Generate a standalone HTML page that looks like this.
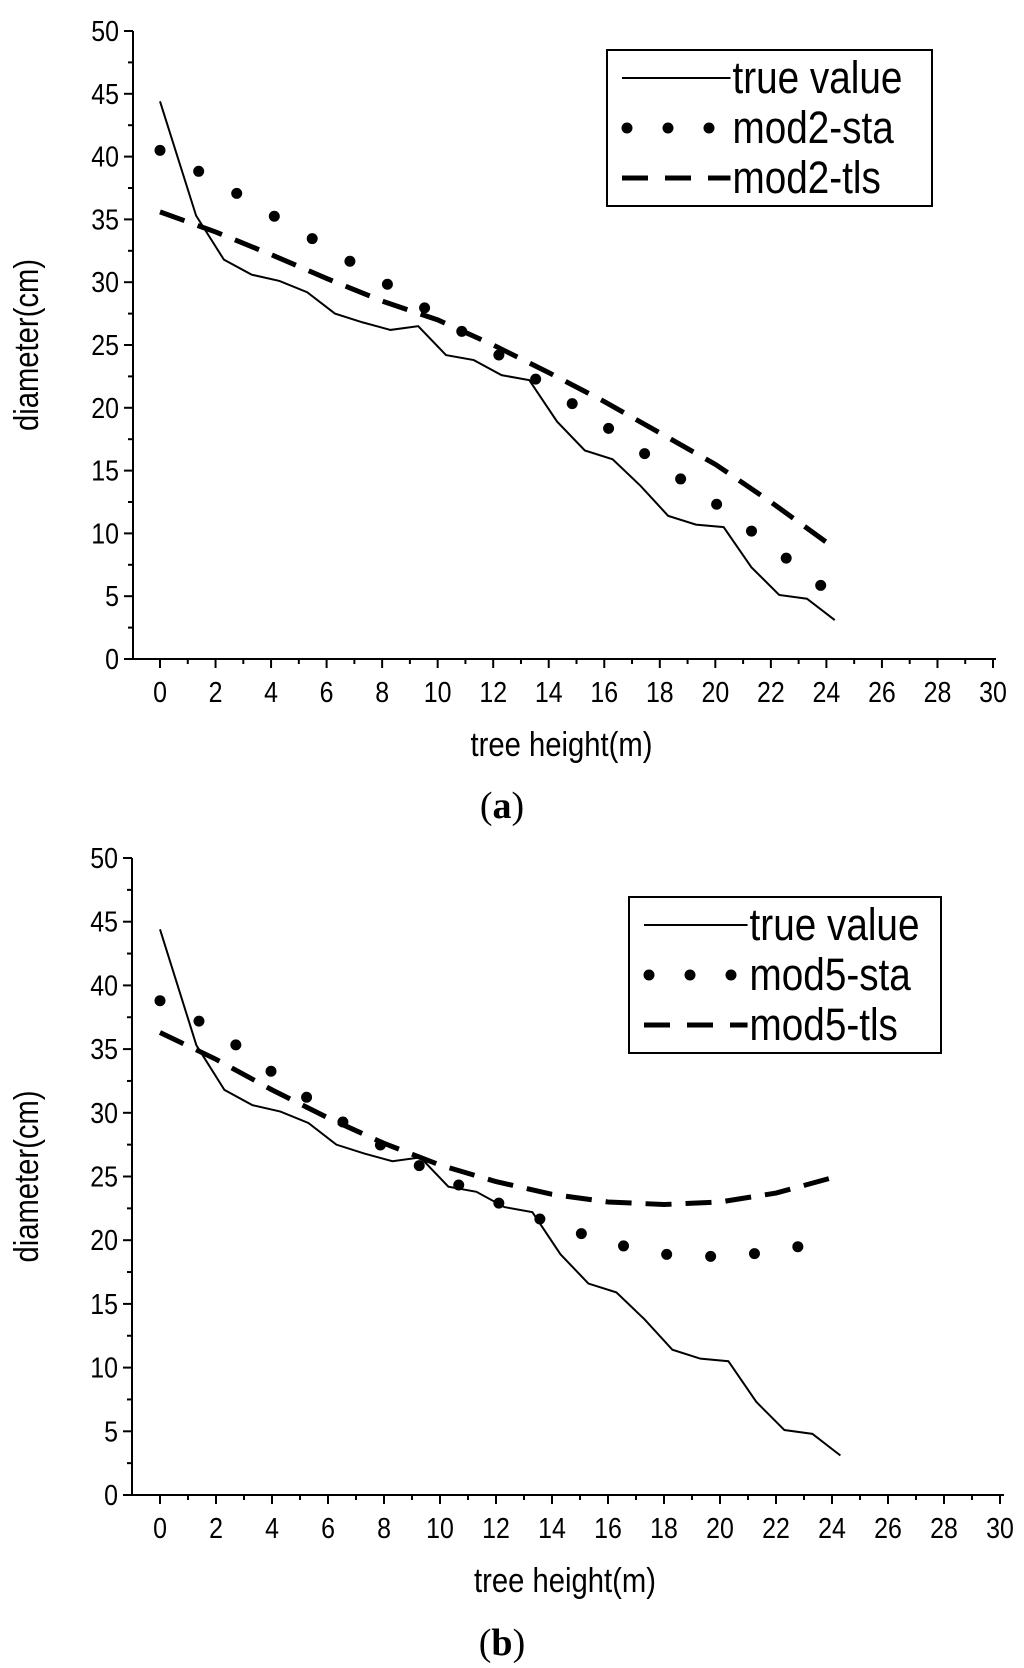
<!DOCTYPE html>
<html><head><meta charset="utf-8"><style>
body{margin:0;background:#fff;}
svg text{font-family:"Liberation Sans",Arial,sans-serif;fill:#000;}
.cap{font-family:"Liberation Serif",serif;}
</style></head><body>
<svg id="fig" width="1024" height="1663" viewBox="0 0 1024 1663" xmlns="http://www.w3.org/2000/svg"></svg>
<script>
const trueX=[0,1.3,2.3,3.3,4.3,5.3,6.3,7.3,8.3,9.3,10.3,11.3,12.3,13.3,14.3,15.3,16.3,17.3,18.3,19.3,20.3,21.3,22.3,23.3,24.3];
const trueY=[44.4,35.3,31.8,30.6,30.1,29.2,27.5,26.8,26.2,26.5,24.2,23.8,22.6,22.2,18.9,16.6,15.9,13.8,11.4,10.7,10.5,7.3,5.1,4.8,3.1];
const modX=[0,2,4,6,8,10,12,14,16,18,20,22,24];
const mod2Sta=[40.5,38.1,35.4,32.8,30.1,27.3,24.5,21.6,18.6,15.5,12.4,9.0,5.5];
const mod2Tls=[35.6,34.0,32.2,30.3,28.5,27.0,25.0,22.8,20.5,18.0,15.5,12.5,9.3];
const mod5Sta=[38.8,36.5,33.2,30.0,27.3,25.0,23.0,21.3,19.8,18.9,18.7,19.1,20.1];
const mod5Tls=[36.3,34.2,31.8,29.6,27.6,25.9,24.6,23.6,23.0,22.8,23.0,23.7,24.9];
const xTicks=[0,2,4,6,8,10,12,14,16,18,20,22,24,26,28,30];
const yTicks=[0,5,10,15,20,25,30,35,40,45,50];
const NS='http://www.w3.org/2000/svg';
const svg=document.getElementById('fig');
function mk(tag,attrs,parent){const e=document.createElementNS(NS,tag);for(const k in attrs)e.setAttribute(k,attrs[k]);(parent||svg).appendChild(e);return e;}
function txt(parent,x,y,s,size,anchor,rot){
  const tr=`translate(${x} ${y})`+(rot?` rotate(${rot})`:'')+' scale(0.86 1)';
  const t=mk('text',{x:0,y:0,'text-anchor':anchor,'font-size':size,transform:tr},parent);
  t.textContent=s;return t;
}
function panel(p){
  const g=mk('g',{});
  
  
  const sx=v=>p.x0+(p.x30-p.x0)*v/30;
  const sy=v=>p.y0+(p.y50-p.y0)*v/50;
  const axX=mk('line',{x1:p.ax,y1:p.y0,x2:p.xend,y2:p.y0,stroke:'#000','stroke-width':2},g);
  
  
  const axY=mk('line',{x1:p.ax,y1:p.y0,x2:p.ax,y2:p.y50,stroke:'#000','stroke-width':2},g);
  
  
  for(let v=1;v<=30;v+=2){mk('line',{x1:sx(v),y1:p.y0,x2:sx(v),y2:p.y0+5,stroke:'#000','stroke-width':2},g);}
  xTicks.forEach(v=>{
    mk('line',{x1:sx(v),y1:p.y0,x2:sx(v),y2:p.y0+9,stroke:'#000','stroke-width':2},g);
    const t=txt(g,sx(v),p.y0+43,String(v),29,'middle');
    
    
  });
  for(let v=2.5;v<50;v+=5){mk('line',{x1:p.ax-5,y1:sy(v),x2:p.ax,y2:sy(v),stroke:'#000','stroke-width':2},g);}
  yTicks.forEach(v=>{
    mk('line',{x1:p.ax-9,y1:sy(v),x2:p.ax,y2:sy(v),stroke:'#000','stroke-width':2},g);
    const t=txt(g,p.ax-14,sy(v)+10,String(v),29,'end');
    
    
  });
  const xt=txt(g,(p.x0+p.x30)/2-15,p.y0+97,'tree height(m)',34,'middle');
  
  
  const yc=(p.y0+p.y50)/2;
  const yt=txt(g,38,yc,'diameter(cm)',34,'middle',-90);
  
  
  const pts=(xs,ys)=>xs.map((x,i)=>sx(x)+','+sy(ys[i])).join(' ');
  const l1=mk('polyline',{points:pts(trueX,trueY),fill:'none',stroke:'#000','stroke-width':2},g);
  
  
  const l2=mk('polyline',{points:pts(modX,p.sta),fill:'none',stroke:'#000','stroke-width':11,'stroke-linecap':'round','stroke-dasharray':'0 44'},g);
  
  
  const l3=mk('polyline',{points:pts(modX,p.tls),fill:'none',stroke:'#000','stroke-width':5,'stroke-dasharray':'26 14'},g);
  
  
  const L=p.leg;
  const lg=mk('g',{},g);
  
  
  mk('rect',{x:L.x,y:L.y,width:L.w,height:L.h,fill:'#fff',stroke:'#000','stroke-width':2},lg);
  const rows=[['true value','solid'],[p.name+'-sta','dot'],[p.name+'-tls','dash']];
  rows.forEach((r,i)=>{
    const cy=L.y+28+i*50;
    const lx1=L.x+15,lx2=L.x+L.w*0.38;
    if(r[1]=='solid')mk('line',{x1:lx1,y1:cy,x2:lx2,y2:cy,stroke:'#000','stroke-width':2},lg);
    else if(r[1]=='dot')mk('line',{x1:lx1+5,y1:cy,x2:lx2,y2:cy,stroke:'#000','stroke-width':11,'stroke-linecap':'round','stroke-dasharray':'0 41'},lg);
    else mk('line',{x1:lx1,y1:cy,x2:lx2,y2:cy,stroke:'#000','stroke-width':5,'stroke-dasharray':'26 17'},lg);
    const t=txt(lg,lx2+2,cy+15,r[0],45,'start');
    
    
  });
  const c=mk('text',{x:p.capX,y:p.capY,'text-anchor':'middle','font-size':38,class:'cap'},g);
  c.innerHTML='(<tspan font-weight="bold">'+p.cap+'</tspan>)';
  
  
}
panel({id:'panel-a',name:'mod2',ax:133,x0:160,x30:993,xend:996,y0:659,y50:31,sta:mod2Sta,tls:mod2Tls,
  leg:{x:607,y:50,w:325,h:156},cap:'a',capX:502,capY:818});
panel({id:'panel-b',name:'mod5',ax:132,x0:160,x30:1000,xend:1004,y0:1495,y50:858,sta:mod5Sta,tls:mod5Tls,
  leg:{x:629,y:897,w:312,h:156},cap:'b',capX:502,capY:1655});
</script>
</body></html>
